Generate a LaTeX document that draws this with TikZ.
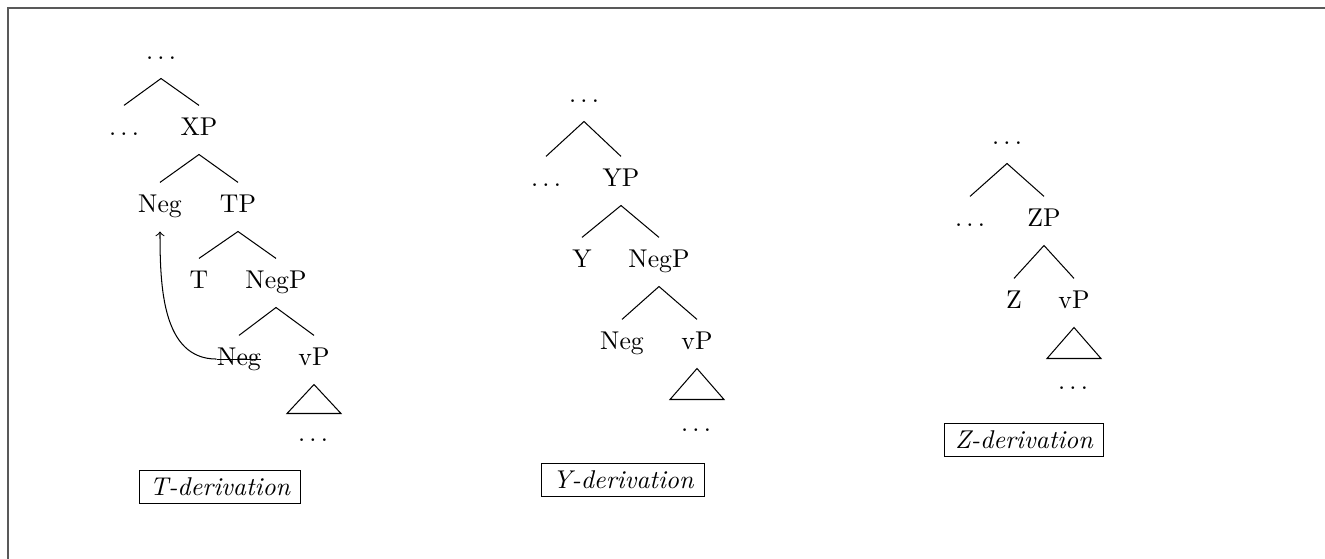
\documentclass[tikz,border=0pt]{standalone}
\usetikzlibrary{calc}
\begin{document}
\begin{tikzpicture}[x=0.389pt,y=-0.389pt,
  tn/.style={anchor=base,inner xsep=0pt,inner ysep=4.9pt,text height=6.8pt,text depth=2.1pt},
  br/.style={line width=0.4pt},
  lab/.style={draw,line width=0.4pt,inner xsep=4.2pt,inner ysep=3pt,font=\itshape},
  frm/.style={draw=black!65,line width=0.6pt}]
\useasboundingbox (0,0) rectangle (1325,559);
\coordinate (fa) at (8,559);
\coordinate (fb) at (8,8);
\coordinate (fc) at (1325,8);
\draw[frm] (fa) -- (fb) -- (fc);

% ---- Tree 1
\node[tn] (a0) at (161,60) {$\ldots$};
\node[tn] (a1) at (124,136) {$\ldots$};
\node[tn] (xp) at (199,136) {XP};
\node[tn] (an) at (160,213) {Neg};
\node[tn] (tp) at (238,213) {TP};
\node[tn] (t) at (199,289) {T};
\node[tn] (anp) at (276,289) {NegP};
\node[tn] (as) at (239,366) {Neg};
\node[tn] (avp) at (314,366) {vP};
\node[tn] (ad) at (313,442) {$\ldots$};
\draw[br] (a1.north) -- (a0.south) -- (xp.north);
\draw[br] (an.north) -- (xp.south) -- (tp.north);
\draw[br] (t.north) -- (tp.south) -- (anp.north);
\draw[br] (as.north) -- (anp.south) -- (avp.north);
\draw[br] (avp.south) -- ($(avp.south)+(-27,29)$) -- ($(avp.south)+(27,29)$) -- cycle;
\draw[br] ([yshift=2.7pt]as.base west) -- ([yshift=2.7pt]as.base east);
\draw[br,->] ([yshift=2.7pt]as.base west) to[out=180,in=-90] (an.south);
\node[lab] (al) at (220,487) {T-derivation};

% ---- Tree 2
\node[tn] (b0) at (584,103) {$\ldots$};
\node[tn] (b1) at (546,187) {$\ldots$};
\node[tn] (yp) at (621,187) {YP};
\node[tn] (y) at (582,268) {Y};
\node[tn] (bnp) at (659,268) {NegP};
\node[tn] (bn) at (622,350) {Neg};
\node[tn] (bvp) at (697,350) {vP};
\node[tn] (bd) at (696,432) {$\ldots$};
\draw[br] (b1.north) -- (b0.south) -- (yp.north);
\draw[br] (y.north) -- (yp.south) -- (bnp.north);
\draw[br] (bn.north) -- (bnp.south) -- (bvp.north);
\draw[br] (bvp.south) -- ($(bvp.south)+(-27,31)$) -- ($(bvp.south)+(27,31)$) -- cycle;
\node[lab] (bl) at (623,480) {Y-derivation};

% ---- Tree 3
\node[tn] (c0) at (1007,145) {$\ldots$};
\node[tn] (c1) at (970,227) {$\ldots$};
\node[tn] (zp) at (1044,227) {ZP};
\node[tn] (z) at (1014,309) {Z};
\node[tn] (cvp) at (1074,309) {vP};
\node[tn] (cd) at (1073,390) {$\ldots$};
\draw[br] (c1.north) -- (c0.south) -- (zp.north);
\draw[br] (z.north) -- (zp.south) -- (cvp.north);
\draw[br] (cvp.south) -- ($(cvp.south)+(-27,31)$) -- ($(cvp.south)+(27,31)$) -- cycle;
\node[lab] (cl) at (1024,440) {Z-derivation};
\end{tikzpicture}
\end{document}
